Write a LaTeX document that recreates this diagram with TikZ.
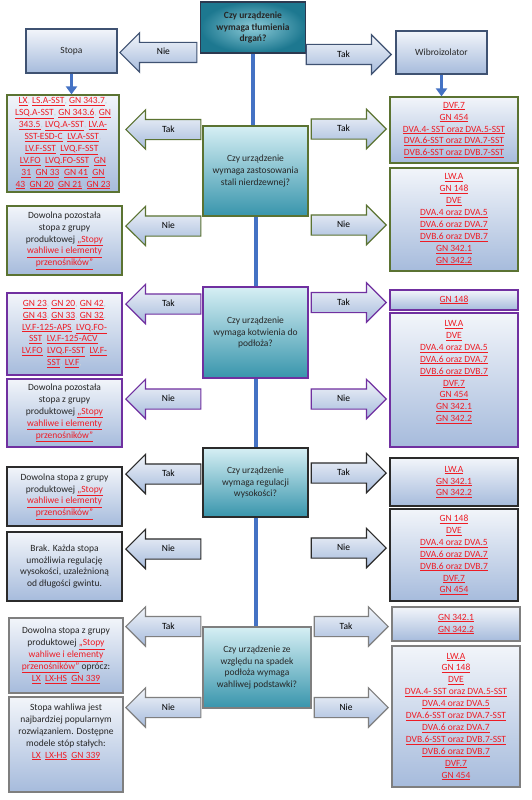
\documentclass[tikz,border=0pt]{standalone}
\usepackage{fontspec}
\setmainfont{Carlito}
\usetikzlibrary{arrows.meta,shapes.arrows}
\definecolor{linkred}{HTML}{EE1C25}
\definecolor{cmagray}{HTML}{C9CFDA}
\definecolor{flowblue}{HTML}{4472C4}
\definecolor{rowtop}{HTML}{3F5272}
\definecolor{rowgreen}{HTML}{5B7332}
\definecolor{rowpurple}{HTML}{7030A0}
\definecolor{rowdark}{HTML}{2B2B2B}
\definecolor{rowgray}{HTML}{7F7F7F}
\definecolor{boxtop}{HTML}{F2F5FA}
\definecolor{boxbot}{HTML}{A6BBDC}
\definecolor{qlight}{HTML}{D6EFF4}
\definecolor{qdark}{HTML}{3895AC}
\definecolor{qzerolight}{HTML}{8CCBD8}
\definecolor{qzerodark}{HTML}{1D7890}
\newcommand{\flowfont}{\fontsize{9.5}{11.9}\selectfont}
\newcommand{\gnlink}[1]{\textcolor{linkred}{\underline{#1}}}
\newcommand{\cma}{\textcolor{cmagray}{,}}

\begin{document}
\begin{tikzpicture}[x=1pt,y=-1pt,font=\flowfont]
  \tikzset{
    qbox/.style={draw=#1,line width=1.2pt,top color=qlight,bottom color=qdark,minimum width=105pt,align=center,text=black!85},
    abox/.style={draw=#1,line width=1.2pt,top color=boxtop,bottom color=boxbot,align=center,inner sep=2pt,text=black!85},
    rarr/.style={single arrow,draw=#1,line width=1.2pt,top color=boxtop,bottom color=boxbot,single arrow head extend=9.5pt,text height=6.5pt,text depth=1.5pt,inner ysep=5.5pt,minimum height=75pt,anchor=tip},
    larr/.style={rarr=#1,shape border rotate=180},
    trunk/.style={draw=flowblue,line width=4pt},
    feed/.style={draw=flowblue,line width=3pt,-{Triangle[length=8pt,width=11pt]}}
  }
  \path[fill=white] (0,0) rectangle (531,800);
  \useasboundingbox (0,0) rectangle (531,800);

  % Top question and first split
  \node[qbox=rowtop!70!black,inner color=qzerolight,outer color=qzerodark,minimum height=51pt,font=\flowfont\bfseries] (q0) at (253,27.5)
    {Czy urządzenie\\wymaga tłumienia\\drgań?};
  \node[abox=rowtop,minimum width=91pt,minimum height=44pt] (stopa) at (71.5,51) {Stopa};
  \node[abox=rowtop,minimum width=91pt,minimum height=43pt] (wibro) at (441.5,52.5) {Wibroizolator};
  \node[larr=rowtop,minimum height=77pt] (nie0) at (119,52.5) {Nie};
  \node[rarr=rowtop,minimum height=85pt] (tak0) at (392,54.5) {Tak};

  % Stainless steel
  \node[qbox=rowgreen,minimum height=90pt] (q1) at (255.5,171)
    {Czy urządzenie\\wymaga zastosowania\\stali nierdzewnej?};
  \node[larr=rowgreen] (s1ta) at (125,129.5) {Tak};
  \node[larr=rowgreen] (s1na) at (125,226) {Nie};
  \node[rarr=rowgreen] (w1ta) at (387,129) {Tak};
  \node[rarr=rowgreen] (w1na) at (387,225) {Nie};
  \node[abox=rowgreen,minimum width=112pt,minimum height=97pt] (s1t) at (63,143.5)
    {\gnlink{LX}\cma{} \gnlink{LS.A-SST}\cma{} \gnlink{GN 343.7}\cma\\
     \gnlink{LSQ.A-SST}\cma{} \gnlink{GN 343.6}\cma{} \gnlink{GN}\\
     \gnlink{343.5}\cma{} \gnlink{LVQ.A-SST}\cma{} \gnlink{LV.A-}\\
     \gnlink{SST-ESD-C}\cma{} \gnlink{LV.A-SST}\cma\\
     \gnlink{LV.F-SST}\cma{} \gnlink{LVQ.F-SST}\cma\\
     \gnlink{LV.FO}\cma{} \gnlink{LVQ.FO-SST}\cma{} \gnlink{GN}\\
     \gnlink{31}\cma{} \gnlink{GN 33}\cma{} \gnlink{GN 41}\cma{} \gnlink{GN}\\
     \gnlink{43}\cma{} \gnlink{GN 20}\cma{} \gnlink{GN 21}\cma{} \gnlink{GN 23}};
  \node[abox=rowgreen,minimum width=115pt,minimum height=69pt] (s1n) at (64.5,240.5)
    {Dowolna pozostała\\stopa z grupy\\produktowej \gnlink{„Stopy}\\\gnlink{wahliwe i elementy}\\\gnlink{przenośników”}};
  \node[abox=rowgreen,minimum width=128pt,minimum height=66pt] (w1t) at (454,130)
    {\gnlink{DVF.7}\\\gnlink{GN 454}\\\gnlink{DVA.4- SST oraz DVA.5-SST}\\\gnlink{DVA.6-SST oraz DVA.7-SST}\\\gnlink{DVB.6-SST oraz DVB.7-SST}};
  \node[abox=rowgreen,minimum width=128pt,minimum height=103pt] (w1n) at (454,219.5)
    {\gnlink{LW.A}\\\gnlink{GN 148}\\\gnlink{DVE}\\\gnlink{DVA.4 oraz DVA.5}\\\gnlink{DVA.6 oraz DVA.7}\\\gnlink{DVB.6 oraz DVB.7}\\\gnlink{GN 342.1}\\\gnlink{GN 342.2}};

  % Anchoring to the floor
  \node[qbox=rowpurple,minimum height=91pt] (q2) at (255.5,332.5)
    {Czy urządzenie\\wymaga kotwienia do\\podłoża?};
  \node[larr=rowpurple] (s2ta) at (125,304) {Tak};
  \node[larr=rowpurple] (s2na) at (125,399) {Nie};
  \node[rarr=rowpurple] (w2ta) at (387,302.5) {Tak};
  \node[rarr=rowpurple] (w2na) at (387,399) {Nie};
  \node[abox=rowpurple,minimum width=115pt,minimum height=82pt] (s2t) at (64.5,334)
    {\gnlink{GN 23}\cma{} \gnlink{GN 20}\cma{} \gnlink{GN 42}\cma\\
     \gnlink{GN 43}\cma{} \gnlink{GN 33}\cma{} \gnlink{GN 32}\cma\\
     \gnlink{LV.F-125-APS}\cma{} \gnlink{LVQ.FO-}\\
     \gnlink{SST}\cma{} \gnlink{LV.F-125-ACV}\cma\\
     \gnlink{LV.FO}\cma{} \gnlink{LVQ.F-SST}\cma{} \gnlink{LV.F-}\\
     \gnlink{SST}\cma{} \gnlink{LV.F}\cma};
  \node[abox=rowpurple,minimum width=115pt,minimum height=68pt] (s2n) at (64.5,413)
    {Dowolna pozostała\\stopa z grupy\\produktowej \gnlink{„Stopy}\\\gnlink{wahliwe i elementy}\\\gnlink{przenośników”}};
  \node[abox=rowpurple,minimum width=128pt,minimum height=20pt] (w2t) at (454,300) {\gnlink{GN 148}};
  \node[abox=rowpurple,minimum width=128pt,minimum height=134pt] (w2n) at (454,380)
    {\gnlink{LW.A}\\\gnlink{DVE}\\\gnlink{DVA.4 oraz DVA.5}\\\gnlink{DVA.6 oraz DVA.7}\\\gnlink{DVB.6 oraz DVB.7}\\\gnlink{DVF.7}\\\gnlink{GN 454}\\\gnlink{GN 342.1}\\\gnlink{GN 342.2}\\[6pt]\mbox{}};

  % Height adjustment
  \node[qbox=rowdark,minimum height=69pt] (q3) at (255.5,482.5)
    {Czy urządzenie\\wymaga regulacji\\wysokości?};
  \node[larr=rowdark] (s3ta) at (125,474) {Tak};
  \node[larr=rowdark] (s3na) at (125,549) {Nie};
  \node[rarr=rowdark] (w3ta) at (387,473) {Tak};
  \node[rarr=rowdark] (w3na) at (387,548) {Nie};
  \node[abox=rowdark,minimum width=115pt,minimum height=59pt] (s3t) at (64.5,496.5)
    {Dowolna stopa z grupy\\produktowej \gnlink{„Stopy}\\\gnlink{wahliwe i elementy}\\\gnlink{przenośników”}};
  \node[abox=rowdark,minimum width=115pt,minimum height=69pt] (s3n) at (64.5,566.5)
    {Brak. Każda stopa\\umożliwia regulację\\wysokości, uzależnioną\\od długości gwintu.};
  \node[abox=rowdark,minimum width=128pt,minimum height=48pt] (w3t) at (454,482)
    {\gnlink{LW.A}\\\gnlink{GN 342.1}\\\gnlink{GN 342.2}};
  \node[abox=rowdark,minimum width=128pt,minimum height=92pt] (w3n) at (454,555)
    {\gnlink{GN 148}\\\gnlink{DVE}\\\gnlink{DVA.4 oraz DVA.5}\\\gnlink{DVA.6 oraz DVA.7}\\\gnlink{DVB.6 oraz DVB.7}\\\gnlink{DVF.7}\\\gnlink{GN 454}};

  % Sloped floor
  \node[qbox=rowgray,minimum width=108pt,minimum height=81pt] (q4) at (257,667.5)
    {Czy urządzenie ze\\względu na spadek\\podłoża wymaga\\wahliwej podstawki?};
  \node[larr=rowgray] (s4ta) at (125,626.5) {Tak};
  \node[larr=rowgray] (s4na) at (125,707.5) {Nie};
  \node[rarr=rowgray,minimum height=74pt] (w4ta) at (389,626.5) {Tak};
  \node[rarr=rowgray,minimum height=74pt] (w4na) at (389,707.5) {Nie};
  \node[abox=rowgray,minimum width=114pt,minimum height=75pt] (s4t) at (66,655.5)
    {Dowolna stopa z grupy\\produktowej \gnlink{„Stopy}\\\gnlink{wahliwe i elementy}\\\gnlink{przenośników”} oprócz:\\\gnlink{LX}\cma{} \gnlink{LX-HS}\cma{} \gnlink{GN 339}};
  \node[abox=rowgray,minimum width=114pt,minimum height=95pt] (s4n) at (66,744.5)
    {Stopa wahliwa jest\\najbardziej popularnym\\rozwiązaniem. Dostępne\\modele stóp stałych:\\\gnlink{LX}\cma{} \gnlink{LX-HS}\cma{} \gnlink{GN 339}\\[15pt]\mbox{}};
  \node[abox=rowgray,minimum width=128pt,minimum height=34pt] (w4t) at (456,624)
    {\gnlink{GN 342.1}\\\gnlink{GN 342.2}};
  \node[abox=rowgray,minimum width=128pt,minimum height=141pt] (w4n) at (456,716.5)
    {\gnlink{LW.A}\\\gnlink{GN 148}\\\gnlink{DVE}\\\gnlink{DVA.4- SST oraz DVA.5-SST}\\\gnlink{DVA.4 oraz DVA.5}\\\gnlink{DVA.6-SST oraz DVA.7-SST}\\\gnlink{DVA.6 oraz DVA.7}\\\gnlink{DVB.6-SST oraz DVB.7-SST}\\\gnlink{DVB.6 oraz DVB.7}\\\gnlink{DVF.7}\\\gnlink{GN 454}};

  % Main trunk and the two feeds
  \draw[trunk] (q0.south) -- (q0.south |- q1.north);
  \draw[trunk] (q1.south) -- (q2.north);
  \draw[trunk] (q2.south) -- (q3.north);
  \draw[trunk] (q3.south) -- (q3.south |- q4.north);
  \draw[feed] (stopa.south) -- (stopa.south |- s1t.north);
  \draw[feed] (wibro.south) -- (wibro.south |- w1t.north);
\end{tikzpicture}
\end{document}
